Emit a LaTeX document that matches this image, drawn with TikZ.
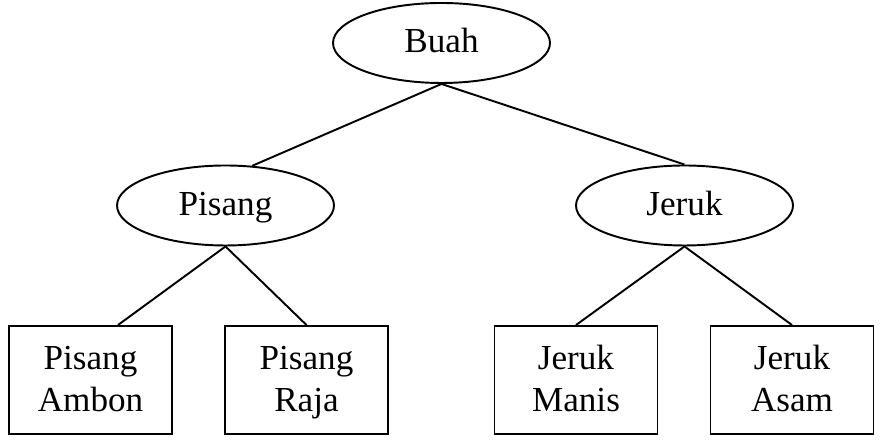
\documentclass[tikz,border=0pt]{standalone}
\usepackage{fontspec}
\setmainfont{Liberation Serif}
\usetikzlibrary{shapes.geometric}
\begin{document}
\begin{tikzpicture}[line width=1.1pt, font=\fontsize{20}{24}\selectfont,
  kategori/.style={draw, ellipse, inner sep=0pt, minimum width=4.34cm, minimum height=1.6cm, text height=1.3em, text depth=0.2em},
  jenis/.style={draw, rectangle, inner sep=0pt, minimum width=3.26cm, minimum height=2.16cm, align=center, text depth=0.15em}]
  \useasboundingbox (0,0) rectangle (17.76,8.96);
  \node[kategori] (buah) at (8.83,8.10) {Buah};
  \node[kategori] (pisang) at (4.51,4.85) {Pisang};
  \node[kategori] (jeruk) at (13.69,4.85) {Jeruk};
  \node[jenis] (ambon) at (1.81,1.36) {Pisang\\Ambon};
  \node[jenis] (raja) at (6.13,1.36) {Pisang\\Raja};
  \node[jenis] (manis) at (11.52,1.36) {Jeruk\\Manis};
  \node[jenis] (asam) at (15.84,1.36) {Jeruk\\Asam};
  \draw (buah.south) -- (pisang.56);
  \draw (buah.south) -- (jeruk.north);
  \draw (pisang.south) -- ([xshift=0.55cm]ambon.north);
  \draw (pisang.south) -- (raja.north);
  \draw (jeruk.south) -- (manis.north);
  \draw (jeruk.south) -- (asam.north);
\end{tikzpicture}
\end{document}
